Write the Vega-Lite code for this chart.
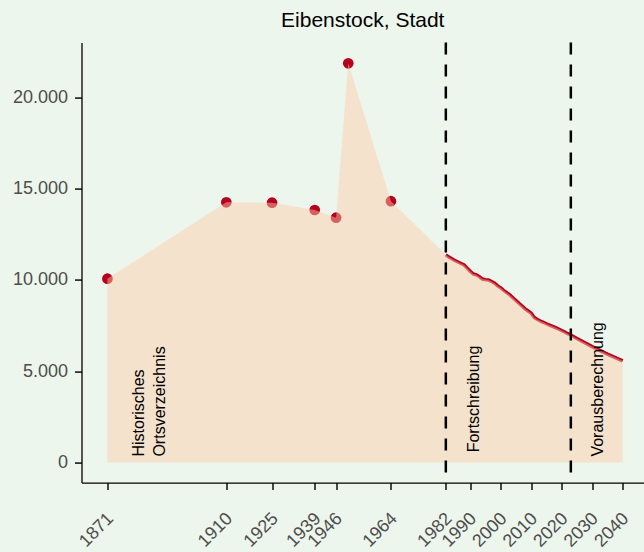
{
  "$schema": "https://vega.github.io/schema/vega-lite/v6.json",
  "width": 562.5,
  "height": 440,
  "autosize": {"type": "none"},
  "padding": {"left": 81.5, "top": 42.6, "right": 0, "bottom": 69.4},
  "background": "#EDF6EC",
  "title": {"text": "Eibenstock, Stadt", "fontSize": 21, "font": "Liberation Sans", "fontWeight": "normal", "color": "#000000", "offset": 10, "anchor": "middle"},
  "config": {
    "view": {"stroke": null},
    "axis": {
      "domainColor": "#000000", "domainWidth": 1.3,
      "tickColor": "#333333", "tickWidth": 1.8, "tickSize": 7,
      "labelColor": "#4D4D4D", "labelFont": "Liberation Sans", "labelFontSize": 18,
      "grid": false, "title": null
    }
  },
  "data": {"values": [
    {"series": "hist", "year": 1871, "value": 10070},
    {"series": "hist", "year": 1910, "value": 14250},
    {"series": "hist", "year": 1925, "value": 14230},
    {"series": "hist", "year": 1939, "value": 13830},
    {"series": "hist", "year": 1946, "value": 13410},
    {"series": "hist", "year": 1950, "value": 21860},
    {"series": "hist", "year": 1964, "value": 14310},
    {"series": "line", "year": 1982, "value": 11380},
    {"series": "line", "year": 1983, "value": 11250},
    {"series": "line", "year": 1984, "value": 11160},
    {"series": "line", "year": 1985, "value": 11060},
    {"series": "line", "year": 1986, "value": 10980},
    {"series": "line", "year": 1987, "value": 10900},
    {"series": "line", "year": 1988, "value": 10820},
    {"series": "line", "year": 1989, "value": 10650},
    {"series": "line", "year": 1990, "value": 10480},
    {"series": "line", "year": 1991, "value": 10330},
    {"series": "line", "year": 1992, "value": 10280},
    {"series": "line", "year": 1993, "value": 10180},
    {"series": "line", "year": 1994, "value": 10050},
    {"series": "line", "year": 1995, "value": 10020},
    {"series": "line", "year": 1996, "value": 10000},
    {"series": "line", "year": 1997, "value": 9920},
    {"series": "line", "year": 1998, "value": 9820},
    {"series": "line", "year": 1999, "value": 9680},
    {"series": "line", "year": 2000, "value": 9570},
    {"series": "line", "year": 2001, "value": 9420},
    {"series": "line", "year": 2002, "value": 9300},
    {"series": "line", "year": 2003, "value": 9180},
    {"series": "line", "year": 2004, "value": 9030},
    {"series": "line", "year": 2005, "value": 8880},
    {"series": "line", "year": 2006, "value": 8720},
    {"series": "line", "year": 2007, "value": 8570},
    {"series": "line", "year": 2008, "value": 8420},
    {"series": "line", "year": 2009, "value": 8300},
    {"series": "line", "year": 2010, "value": 8180},
    {"series": "line", "year": 2011, "value": 7950},
    {"series": "line", "year": 2012, "value": 7840},
    {"series": "line", "year": 2013, "value": 7750},
    {"series": "line", "year": 2014, "value": 7680},
    {"series": "line", "year": 2015, "value": 7600},
    {"series": "line", "year": 2016, "value": 7530},
    {"series": "line", "year": 2017, "value": 7460},
    {"series": "line", "year": 2018, "value": 7390},
    {"series": "line", "year": 2019, "value": 7310},
    {"series": "line", "year": 2020, "value": 7230},
    {"series": "line", "year": 2021, "value": 7150},
    {"series": "line", "year": 2022, "value": 7060},
    {"series": "line", "year": 2023, "value": 6990},
    {"series": "line", "year": 2025, "value": 6800},
    {"series": "line", "year": 2030, "value": 6350},
    {"series": "line", "year": 2035, "value": 5940},
    {"series": "line", "year": 2040, "value": 5570},
    {"series": "rule", "year": 1982},
    {"series": "rule", "year": 2023},
    {"series": "text", "year": 1881.4, "value": 330, "label": "Historisches\nOrtsverzeichnis"},
    {"series": "text", "year": 1991.3, "value": 560, "label": "Fortschreibung"},
    {"series": "text", "year": 2032, "value": 330, "label": "Vorausberechnung"}
  ]},
  "layer": [
    {
      "transform": [{"filter": "datum.series === 'hist'"}],
      "mark": {"type": "circle", "size": 115, "color": "#B5001E", "opacity": 1},
      "encoding": {
        "x": {"field": "year", "type": "quantitative",
              "scale": {"domain": [1862.5, 2047], "nice": false, "zero": false},
              "axis": {"values": [1871, 1910, 1925, 1939, 1946, 1964, 1982, 1990, 2000, 2010, 2020, 2030, 2040],
                       "format": "d", "labelAngle": -45, "labelAlign": "right", "labelBaseline": "middle",
                       "labelPadding": 26, "labelOffset": 3, "title": null, "labelOverlap": false}},
        "y": {"field": "value", "type": "quantitative",
              "scale": {"domain": [-1095, 22995], "nice": false, "zero": false},
              "axis": {"values": [0, 5000, 10000, 15000, 20000],
                       "labelExpr": "replace(format(datum.value, ','), ',', '.')",
                       "labelPadding": 7, "title": null}}
      }
    },
    {
      "transform": [{"filter": "datum.series === 'line'"}],
      "mark": {"type": "line", "color": "#B5001E", "strokeWidth": 3.4},
      "encoding": {
        "x": {"field": "year", "type": "quantitative"},
        "y": {"field": "value", "type": "quantitative"}
      }
    },
    {
      "transform": [{"filter": "datum.series === 'hist' || datum.series === 'line'"}],
      "mark": {"type": "area", "color": "#FDCDA7", "opacity": 0.47},
      "encoding": {
        "x": {"field": "year", "type": "quantitative"},
        "y": {"field": "value", "type": "quantitative"},
        "y2": {"datum": 0}
      }
    },
    {
      "transform": [{"filter": "datum.series === 'rule'"}],
      "mark": {"type": "rule", "color": "#000000", "strokeWidth": 2.5, "strokeDash": [12, 10]},
      "encoding": {
        "x": {"field": "year", "type": "quantitative"}
      }
    },
    {
      "transform": [{"filter": "datum.series === 'text'"}],
      "mark": {"type": "text", "angle": 270, "align": "left", "baseline": "middle", "fontSize": 16,
               "font": "Liberation Sans", "color": "#000000", "lineBreak": "\n", "lineHeight": 21},
      "encoding": {
        "x": {"field": "year", "type": "quantitative"},
        "y": {"field": "value", "type": "quantitative"},
        "text": {"field": "label", "type": "nominal"}
      }
    }
  ]
}
